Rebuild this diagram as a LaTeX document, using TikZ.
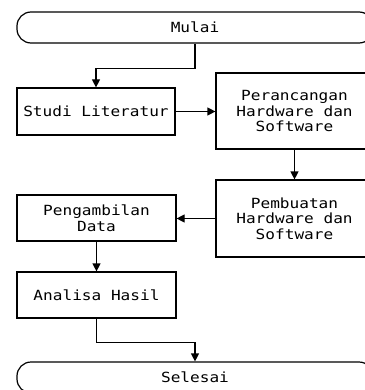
\documentclass[tikz,border=0pt]{standalone}
\usepackage{fontspec}
\usepackage{tikz}
\usetikzlibrary{arrows.meta,positioning,calc}
\newfontfamily\flowfont[FakeStretch=1.15]{DejaVu Sans Mono}
\tikzset{
  proses/.style={draw,line width=1.2pt,align=center,inner sep=2pt,
    font=\flowfont\fontsize{14}{15.5}\selectfont},
  terminal/.style={proses,rounded corners=14pt,minimum width=356pt,minimum height=31pt},
  panah/.style={line width=1.2pt,-{Triangle[length=8pt,width=8pt]}}
}
\begin{document}
\begin{tikzpicture}[x=1pt,y=-1pt]
      \useasboundingbox (0,0) rectangle (364,390);
      \node[terminal] (mulai) at (195,27.5){Mulai};
      \node[proses,minimum width=158pt,minimum height=47pt] (studi) at (96,111.5){Studi Literatur};
      \node[proses,minimum width=157pt,minimum height=76pt] (rancang) at (294.5,111){Perancangan\\Hardware dan\\Software};
      \node[proses,minimum width=157pt,minimum height=77pt] (buat) at (294.5,218.5){Pembuatan\\Hardware dan\\Software};
      \node[proses,minimum width=159pt,minimum height=46pt] (ambil) at (96.5,218){Pengambilan\\Data};
      \node[proses,minimum width=159pt,minimum height=46pt] (analisa) at (96.5,295){Analisa Hasil};
      \node[terminal] (selesai) at (195,377.5){Selesai};
      \draw[panah](mulai.south)--++(0,25)-|(studi.north);
      \draw[panah](studi.east)--(studi.east-|rancang.west);
      \draw[panah](rancang.south)--(buat.north);
      \draw[panah](buat.west)--(buat.west-|ambil.east);
      \draw[panah](ambil.south)--(analisa.north);
      \draw[panah](analisa.south)--++(0,24)-|(selesai.north);
    \end{tikzpicture}
\end{document}
